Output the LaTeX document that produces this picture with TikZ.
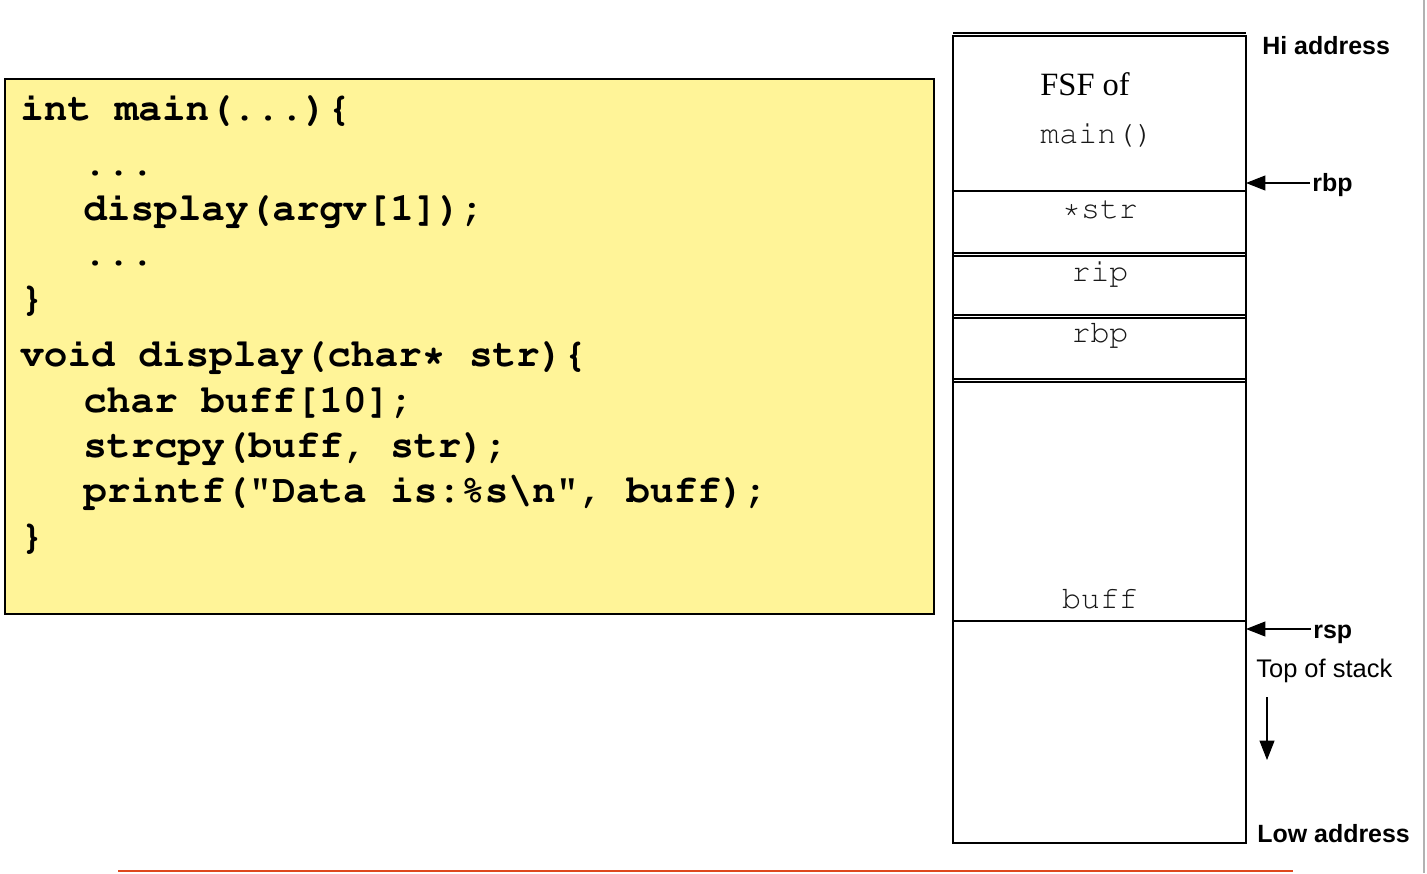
\documentclass[tikz,border=0pt]{standalone}
\usepackage{fontspec}
\setmainfont{Liberation Serif}
\setsansfont{Liberation Sans}
\setmonofont{Liberation Mono}
\usetikzlibrary{arrows.meta}
\newcommand{\courfont}{\fontencoding{T1}\fontfamily{pcr}\selectfont}
\definecolor{codebg}{RGB}{255,244,152}
\definecolor{cellink}{RGB}{25,25,25}
\definecolor{rulered}{RGB}{222,72,30}
\tikzset{
  code/.style={anchor=base west,inner sep=0pt,font=\fontsize{22.4}{26}\courfont\bfseries},
  celltext/.style={anchor=base,inner sep=0pt,text=cellink,font=\fontsize{18}{20}\courfont},
  side/.style={anchor=base west,inner sep=0pt,font=\fontsize{14.2}{17}\sffamily\bfseries},
  sideplain/.style={anchor=base west,inner sep=0pt,font=\fontsize{14.5}{17}\sffamily},
  cellline/.style={draw=black,line width=0.6pt},
  ptr/.style={-{Triangle[length=11pt,width=8.5pt]},line width=0.6pt},
}
\begin{document}
\begin{tikzpicture}[x=0.02cm,y=-0.02cm]
\useasboundingbox (0,0) rectangle (1427,873);
% code box
\node[draw=black,line width=1.2pt,fill=codebg,minimum width=929*0.02cm,minimum height=535*0.02cm,anchor=north west,inner sep=0pt] (codebox) at (4,78) {};
\node[code] (l1) at (20,120) {int main(...)\{};
\node[code] (l2) at (83,175) {...};
\node[code] (l3) at (83,220) {display(argv[1]);};
\node[code] (l4) at (83,265) {...};
\node[code] (l5) at (20,310) {\}};
\node[code] (l6) at (20,366) {void display(char* str)\{};
\node[code] (l7) at (83,412) {char buff[10];};
\node[code] (l8) at (83,457) {strcpy(buff, str);};
\node[code] (l9) at (83,502) {printf("Data is:\%s\textbackslash n", buff);};
\node[code] (l10) at (20,548) {\}};
% stack
\draw[cellline] (953,33) -- (1246,33);
\draw[cellline] (953,36) rectangle (1246,843);
\draw[line width=1pt] (953,191) -- (1246,191);
\draw[cellline] (953,253) -- (1246,253);
\draw[cellline] (953,256) -- (1246,256);
\draw[cellline] (953,315) -- (1246,315);
\draw[cellline] (953,318) -- (1246,318);
\draw[cellline] (953,379) -- (1246,379);
\draw[cellline] (953,382) -- (1246,382);
\draw[cellline] (953,621) -- (1246,621);
\coordinate (rbpedge) at (1246,183);
\coordinate (rspedge) at (1246,629);
\node[anchor=base west,inner sep=0pt,font=\fontsize{18.5}{22}\rmfamily] (fsf) at (1040,95) {FSF of};
\node[anchor=base west,inner sep=0pt,text=cellink,font=\fontsize{18}{20}\courfont] (mainf) at (1040,143) {main()};
\node[celltext] (cstr) at (1100,218) {*str};
\node[celltext] (crip) at (1100,281) {rip};
\node[celltext] (crbp) at (1100,342) {rbp};
\node[celltext] (cbuff) at (1100,608) {buff};
% side labels
\node[side] (hi) at (1262,54) {Hi address};
\node[side] (rbplab) at (1312,191) {rbp};
\node[side] (rsplab) at (1313,638) {rsp};
\node[sideplain] (tos) at (1256,677) {Top of stack};
\node[side] (lo) at (1257,842) {Low address};
\coordinate (dtop) at (1267,697);
\coordinate (dbot) at (1267,760);
\draw[ptr] (rbplab.west|-rbpedge) ++(-2,0) coordinate (rbpstart) -- (rbpedge);
\draw[ptr] (rsplab.west|-rspedge) ++(-2,0) coordinate (rspstart) -- (rspedge);
\draw[ptr] (dtop) -- (dbot);
% page furniture
\draw[rulered,line width=1.4pt] (118,871) -- (1293,871);
\draw[gray!60,line width=0.6pt] (1424,0) -- (1424,873);
\end{tikzpicture}
\end{document}
